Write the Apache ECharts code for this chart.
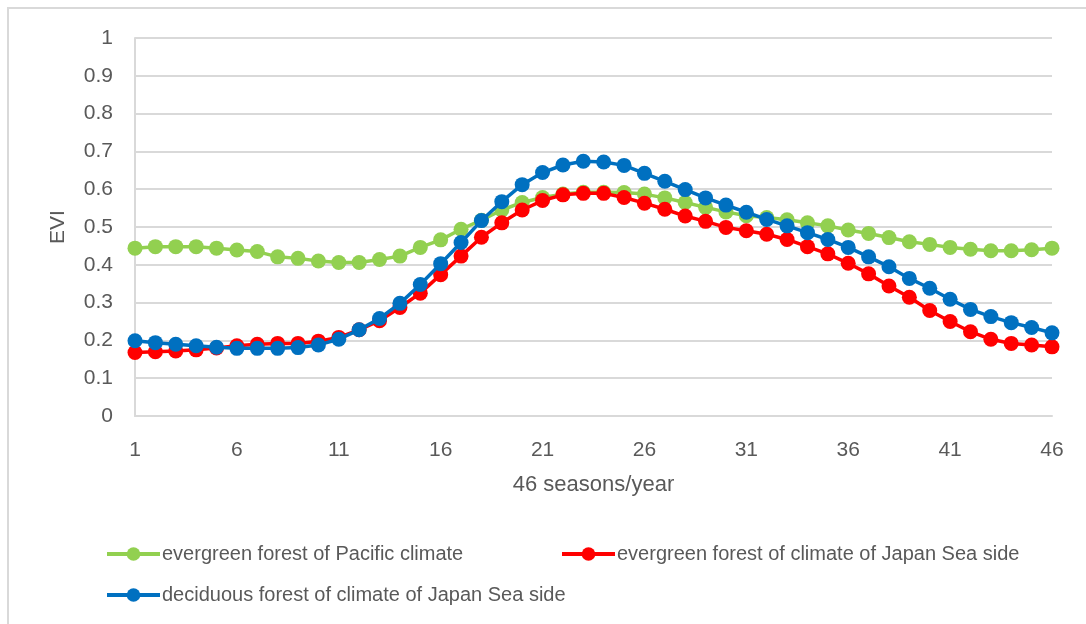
<!DOCTYPE html>
<html>
<head>
<meta charset="utf-8">
<script src="https://cdn.jsdelivr.net/npm/echarts@6/dist/echarts.min.js"></script>
<style>
html,body{margin:0;padding:0;background:#fff;}
#chart{width:1086px;height:624px;}
</style>
</head>
<body>
<div id="chart"></div>
<script>
const categories = Array.from({length: 46}, (_, i) => String(i + 1));
const seriesNames = [
  'evergreen forest of Pacific climate',
  'evergreen forest of climate of Japan Sea side',
  'deciduous forest of climate of Japan Sea side'
];
const pacificEvergreen = [0.444,0.448,0.448,0.448,0.444,0.439,0.435,0.421,0.417,0.410,
  0.406,0.406,0.414,0.423,0.446,0.466,0.494,0.518,0.545,0.565,
  0.578,0.587,0.592,0.592,0.591,0.587,0.577,0.565,0.552,0.540,
  0.530,0.525,0.519,0.511,0.503,0.492,0.483,0.472,0.461,0.454,
  0.446,0.441,0.437,0.437,0.440,0.444];
const japanSeaEvergreen = [0.168,0.170,0.172,0.175,0.180,0.186,0.190,0.192,0.192,0.198,
  0.208,0.228,0.252,0.287,0.325,0.374,0.423,0.473,0.511,0.545,
  0.570,0.585,0.589,0.589,0.578,0.563,0.547,0.529,0.515,0.499,
  0.490,0.481,0.467,0.448,0.429,0.404,0.376,0.344,0.314,0.279,
  0.250,0.223,0.203,0.192,0.188,0.183];
const japanSeaDeciduous = [0.199,0.194,0.190,0.186,0.182,0.179,0.179,0.179,0.181,0.188,
  0.203,0.228,0.258,0.298,0.348,0.403,0.459,0.517,0.567,0.612,
  0.644,0.664,0.674,0.672,0.663,0.642,0.621,0.599,0.577,0.558,
  0.539,0.520,0.503,0.485,0.467,0.446,0.421,0.395,0.364,0.338,
  0.309,0.282,0.263,0.247,0.234,0.220];
const colors = ['#92d050', '#ff0000', '#0070c0'];
const allValues = [pacificEvergreen, japanSeaEvergreen, japanSeaDeciduous];

const FONT = '"Liberation Sans", Arial, sans-serif';
const TXT = '#595959';

const chart = echarts.init(document.getElementById('chart'), null, {renderer: 'canvas'});
const legendText = {color: TXT, fontSize: 20, fontFamily: FONT, padding: [0, 0, 0, -3]};
const legendBase = {
  orient: 'horizontal', itemWidth: 53, itemHeight: 17, itemGap: 0,
  textStyle: legendText, padding: 0,
  lineStyle: {width: 4}
};
chart.setOption({
  animation: false,
  backgroundColor: '#fff',
  graphic: [{
    type: 'rect', shape: {x: 8, y: 8, width: 1200, height: 800},
    style: {fill: 'none', stroke: '#d9d9d9', lineWidth: 2}, silent: true, z: -10
  }],
  grid: {left: 135, right: 34, top: 38, bottom: 208},
  legend: [
    Object.assign({}, legendBase, {data: [seriesNames[0]], left: 105, top: 544}),
    Object.assign({}, legendBase, {data: [seriesNames[1]], left: 560, top: 544}),
    Object.assign({}, legendBase, {data: [seriesNames[2]], left: 105, top: 585})
  ],
  xAxis: {
    type: 'category', data: categories, boundaryGap: false,
    name: '46 seasons/year', nameLocation: 'middle', nameGap: 58,
    nameTextStyle: {color: TXT, fontSize: 22, fontFamily: FONT},
    axisLine: {show: true, lineStyle: {color: '#d9d9d9', width: 2}},
    axisTick: {show: false},
    axisLabel: {interval: 4, color: TXT, fontSize: 21, fontFamily: FONT, margin: 24},
    splitLine: {show: false}
  },
  yAxis: {
    type: 'value', min: 0, max: 1, interval: 0.1,
    name: 'EVI', nameLocation: 'middle', nameGap: 66,
    nameTextStyle: {color: TXT, fontSize: 21, fontFamily: FONT},
    axisLine: {show: true, lineStyle: {color: '#d9d9d9', width: 2}},
    axisTick: {show: false},
    axisLabel: {color: TXT, fontSize: 21, fontFamily: FONT, margin: 22,
      formatter: v => String(Math.round(v * 10) / 10)},
    splitLine: {show: true, lineStyle: {color: '#d9d9d9', width: 2}}
  },
  series: allValues.map((vals, i) => ({
    name: seriesNames[i], type: 'line', data: vals,
    symbol: 'circle', symbolSize: 15, showSymbol: true, showAllSymbol: true,
    lineStyle: {color: colors[i], width: 3.5},
    itemStyle: {color: colors[i]},
    z: 2 + i
  }))
});
</script>
</body>
</html>
